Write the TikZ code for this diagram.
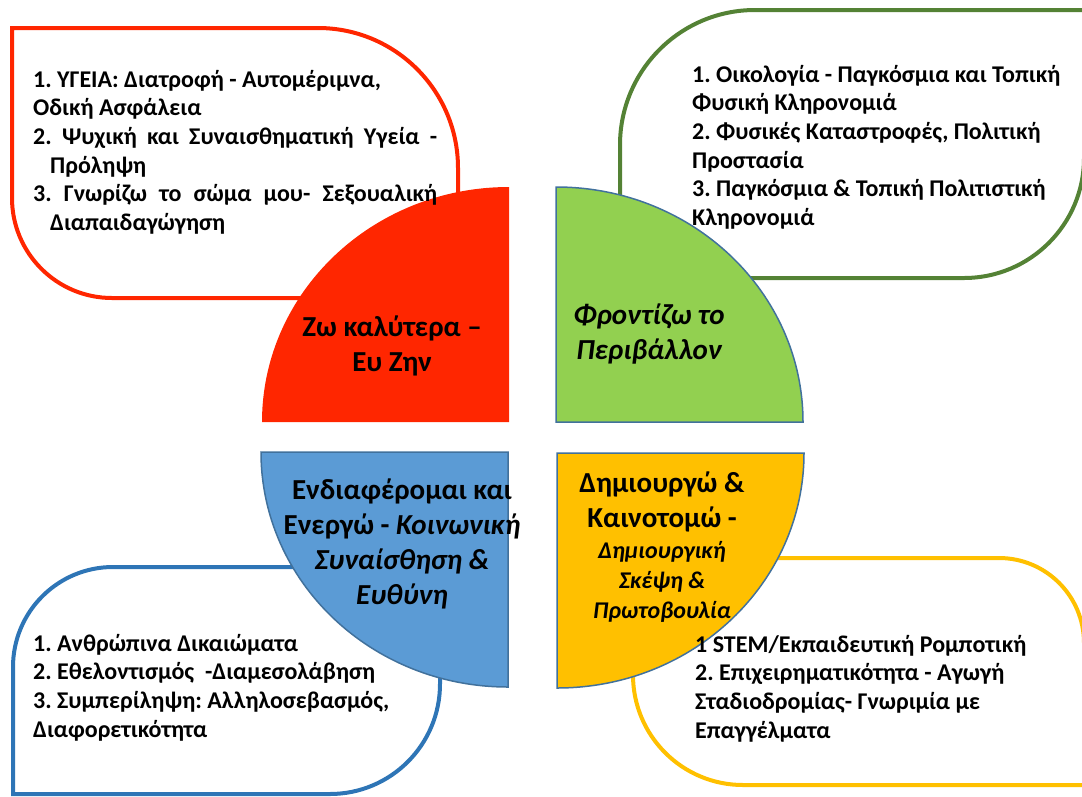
\documentclass[tikz,border=0pt]{standalone}
\usepackage{fontspec}
\setmainfont{Carlito}
\usetikzlibrary{positioning}
\definecolor{livered}{RGB}{255,38,0}
\definecolor{envgreen}{RGB}{146,208,80}
\definecolor{envdark}{RGB}{84,130,53}
\definecolor{socblue}{RGB}{91,155,213}
\definecolor{socdark}{RGB}{46,117,182}
\definecolor{creyellow}{RGB}{255,192,0}
\definecolor{rimblue}{RGB}{65,113,156}
\tikzstyle{topicbox}=[line width=4pt]
\tikzstyle{quarter}=[draw=rimblue,line width=1.5pt]
\tikzstyle{items}=[anchor=north west,inner sep=0pt,align=left,font=\frenchspacing\bfseries\fontsize{24}{28.6}\selectfont]
\tikzstyle{theme}=[inner sep=0pt,align=center,font=\bfseries\fontsize{29}{35}\selectfont]
\tikzstyle{subtheme}=[inner sep=0pt,align=center,font=\bfseries\itshape\fontsize{24}{30}\selectfont]

\begin{document}
\begin{tikzpicture}[x=1pt,y=-1pt]
    \useasboundingbox (0,0) rectangle (1082,796);

    \draw[topicbox,draw=livered] (12,28) -- (318,28) arc[start angle=270,end angle=360,radius=140]
        -- (458,298) -- (112,298) arc[start angle=90,end angle=180,radius=100] -- cycle;
    \draw[topicbox,draw=envdark] (620,278) -- (620,145) arc[start angle=180,end angle=270,radius=135]
        -- (1084,10) -- (1084,158) arc[start angle=0,end angle=90,radius=120] -- cycle;
    \draw[topicbox,draw=socdark] (440,567) -- (440,684) arc[start angle=0,end angle=90,radius=110]
        -- (13,794) -- (13,667) arc[start angle=180,end angle=270,radius=100] -- cycle;
    \draw[topicbox,draw=creyellow] (633,558) -- (999,558) arc[start angle=270,end angle=360,radius=85]
        -- (1084,785) -- (743,785) arc[start angle=90,end angle=180,radius=110] -- cycle;

    \fill[livered] (509,422) -- (262,422) arc[start angle=180,end angle=270,x radius=247,y radius=235] -- cycle;
    \filldraw[quarter,fill=envgreen] (556,422) -- (556,187) arc[start angle=270,end angle=360,x radius=247,y radius=235] -- cycle;
    \filldraw[quarter,fill=socblue] (508,452) -- (261,452) arc[start angle=180,end angle=90,x radius=247,y radius=235] -- cycle;
    \filldraw[quarter,fill=creyellow] (557,453) -- (804,453) arc[start angle=0,end angle=90,x radius=247,y radius=235] -- cycle;

    \node[items] (health) at (33,70) {1. ΥΓΕΙΑ: Διατροφή - Αυτομέριμνα,\\
        Οδική Ασφάλεια\\
        \makebox[404pt][s]{2. Ψυχική και Συναισθηματική Υγεία -}\\
        \hspace*{17pt}Πρόληψη\\
        \makebox[404pt][s]{3. Γνωρίζω το σώμα μου- Σεξουαλική}\\
        \hspace*{17pt}Διαπαιδαγώγηση};
    \node[items] (nature) at (692,65) {1. Οικολογία - Παγκόσμια και Τοπική\\
        Φυσική Κληρονομιά\\
        2. Φυσικές Καταστροφές, Πολιτική\\
        Προστασία\\
        3. Παγκόσμια \& Τοπική Πολιτιστική\\
        Κληρονομιά};
    \node[items] (rights) at (33,634) {1. Ανθρώπινα Δικαιώματα\\
        2. Εθελοντισμός\ \ -Διαμεσολάβηση\\
        3. Συμπερίληψη: Αλληλοσεβασμός,\\
        Διαφορετικότητα};
    \node[items] (stem) at (695,635) {1 STEM/Εκπαιδευτική Ρομποτική\\
        2. Επιχειρηματικότητα - Αγωγή\\
        Σταδιοδρομίας- Γνωριμία με\\
        Επαγγέλματα};

    \node[theme] (live) at (392,346) {Ζω καλύτερα –\\ Ευ Ζην};
    \node[theme,font=\bfseries\itshape\fontsize{29}{35}\selectfont] (care) at (649,334) {Φροντίζω το\\ Περιβάλλον};
    \node[theme] (act) at (402,544) {Ενδιαφέρομαι και\\ Ενεργώ - \textit{Κοινωνική}\\
        \textit{Συναίσθηση \&}\\ \textit{Ευθύνη}};
    \node[theme] (create) at (662,502) {Δημιουργώ \&\\ Καινοτομώ -};
    \node[subtheme,below=9pt of create] (think) {Δημιουργική\\ Σκέψη \&\\ Πρωτοβουλία};
\end{tikzpicture}
\end{document}
